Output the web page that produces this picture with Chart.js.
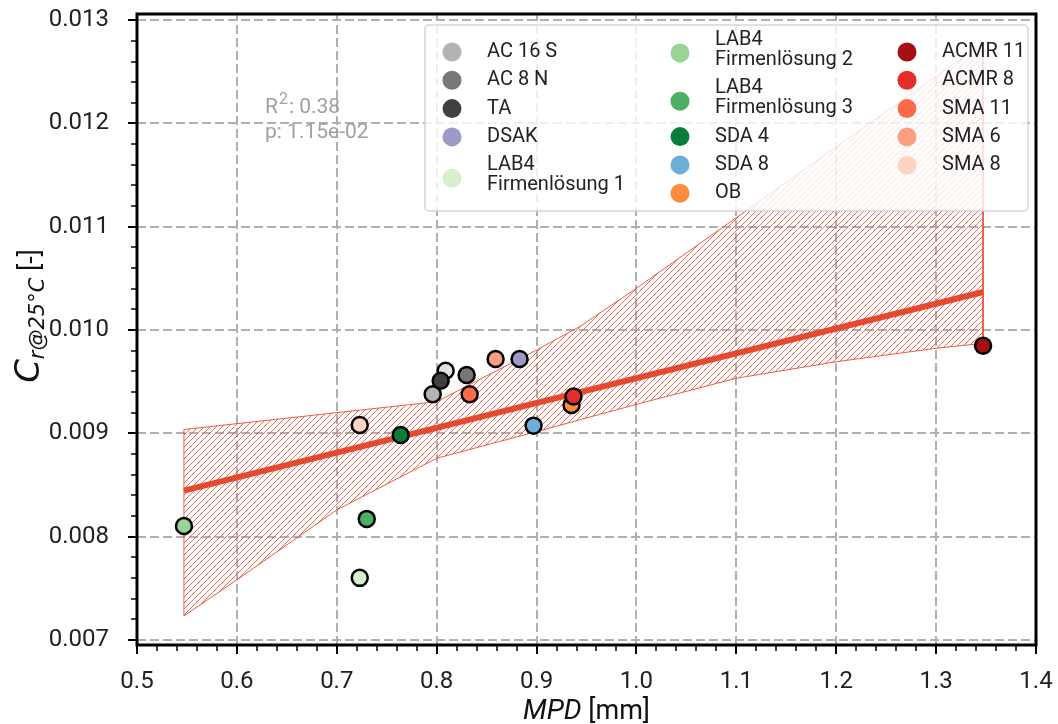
<!DOCTYPE html>
<html>
<head>
<meta charset="utf-8">
<script src="https://cdn.jsdelivr.net/npm/chart.js@4.4.0/dist/chart.umd.min.js"></script>
<style>
html, body { margin: 0; padding: 0; background: #fff; }
</style>
</head>
<body>
<canvas id="chart" width="1058" height="724"></canvas>
<script>
const names = ['AC 16 S', 'AC 8 N', 'TA', 'DSAK', 'LAB4\nFirmenlösung 1',
    'LAB4\nFirmenlösung 2', 'LAB4\nFirmenlösung 3', 'SDA 4', 'SDA 8', 'OB',
    'ACMR 11', 'ACMR 8', 'SMA 11', 'SMA 6', 'SMA 8']
const colors = ['#b3b3b3', '#777777', '#404040', '#9e9ac8', '#d5efcf',
    '#98d594', '#4bb062', '#0b7d3a', '#6baed6', '#fd8d3c',
    '#a50f15', '#e32f27', '#fb6a4a', '#fc9f81', '#fdd4c2']
const mpd = [0.796, 0.830, 0.804, 0.883, 0.723, 0.547, 0.730, 0.764, 0.897, 0.935, 1.347, 0.937, 0.833, 0.859, 0.723]
const cr = [0.009378, 0.009565, 0.009509, 0.009719, 0.00760, 0.008103, 0.008171, 0.008984, 0.009074, 0.009274, 0.009848, 0.009357, 0.009378, 0.009719, 0.009081]

// one point has no legend entry
const extraMpd = [0.809]
const extraCr = [0.009606]
const extraColor = '#e2e2e2'

// regression line and its confidence band
const fitX = [0.547, 1.347]
const fitY = [0.008445, 0.010368]
const bandX = [0.547, 0.6, 0.7, 0.8, 0.9, 0.943, 1.0, 1.1, 1.2, 1.3, 1.347]
const bandUpper = [0.009037, 0.009093, 0.009200, 0.009306, 0.009806, 0.010032, 0.010404, 0.011088, 0.011772, 0.012456, 0.012775]
const bandLower = [0.007232, 0.007581, 0.008258, 0.008758, 0.009016, 0.009130, 0.009280, 0.009533, 0.009693, 0.009823, 0.009871]

const xTicks = [0.5, 0.6, 0.7, 0.8, 0.9, 1.0, 1.1, 1.2, 1.3, 1.4]
const yTicks = [0.007, 0.008, 0.009, 0.010, 0.011, 0.012, 0.013]
const r2Text = '0.38'
const pText = '1.15e-02'

const lineRed = '#e64a2e'
const hatchRed = 'rgba(240,80,55,0.85)'
const font = 'Roboto'
const mathFont = '"DejaVu Sans"'

const datasets = []
datasets.push({
    data: bandX.map((x, i) => ({x: x, y: bandUpper[i]})),
    fill: false, borderWidth: 0, pointRadius: 0, order: 10
})
datasets.push({
    data: bandX.map((x, i) => ({x: x, y: bandLower[i]})),
    fill: false, borderWidth: 0, pointRadius: 0, order: 10
})
// outline of the band
let outline = bandX.map((x, i) => ({x: x, y: bandUpper[i]}))
outline = outline.concat(bandX.map((x, i) => ({x: x, y: bandLower[i]})).reverse())
outline.push({x: bandX[0], y: bandUpper[0]})
datasets.push({
    data: outline, fill: false, borderColor: 'rgba(235,75,50,0.9)', borderWidth: 1, pointRadius: 0, order: 9
})
datasets.push({
    data: fitX.map((x, i) => ({x: x, y: fitY[i]})),
    fill: false, borderColor: lineRed, borderWidth: 6, pointRadius: 0, borderCapStyle: 'butt', order: 5
})
datasets.push({
    data: extraMpd.map((x, i) => ({x: x, y: extraCr[i]})),
    showLine: false, pointRadius: 8, pointBackgroundColor: extraColor,
    pointBorderColor: '#000', pointBorderWidth: 2.5, order: 1
})
names.forEach((n, i) => {
    datasets.push({
        label: n,
        data: [{x: mpd[i], y: cr[i]}],
        showLine: false, pointRadius: 8, pointBackgroundColor: colors[i],
        pointBorderColor: '#000', pointBorderWidth: 2.5, order: -i
    })
})

const decor = {
    id: 'decor',
    beforeDatasetsDraw (chart) {
        const ctx = chart.ctx
        const a = chart.chartArea
        const x = chart.scales.x
        const y = chart.scales.y
        ctx.save()
        ctx.strokeStyle = '#b0b0b0'
        ctx.lineWidth = 2
        ctx.setLineDash([9, 4])
        xTicks.forEach((v) => {
            const px = Math.round(x.getPixelForValue(v))
            ctx.beginPath(); ctx.moveTo(px, a.bottom); ctx.lineTo(px, a.top); ctx.stroke()
        })
        yTicks.forEach((v) => {
            const py = Math.round(y.getPixelForValue(v))
            ctx.beginPath(); ctx.moveTo(a.left, py); ctx.lineTo(a.right, py); ctx.stroke()
        })
        ctx.restore()

        // hatched confidence band, clipped to the band polygon
        const up = chart.getDatasetMeta(0).data
        const lo = chart.getDatasetMeta(1).data
        ctx.save()
        ctx.beginPath()
        up.forEach((p, i) => { if (i) ctx.lineTo(p.x, p.y); else ctx.moveTo(p.x, p.y) })
        for (let i = lo.length - 1; i >= 0; i--) ctx.lineTo(lo[i].x, lo[i].y)
        ctx.closePath()
        ctx.clip()
        ctx.strokeStyle = hatchRed
        ctx.lineWidth = 1
        ctx.beginPath()
        for (let k = -a.height; k < a.width + a.height; k += 6) {
            ctx.moveTo(a.left + k, a.bottom)
            ctx.lineTo(a.left + k + a.height, a.top)
        }
        ctx.stroke()
        ctx.restore()
    },
    afterDraw (chart) {
        const ctx = chart.ctx
        const a = chart.chartArea
        const x = chart.scales.x
        const y = chart.scales.y
        ctx.save()

        // ticks
        ctx.strokeStyle = '#000'
        for (let k = 0; k <= 45; k++) {
            const v = 0.5 + k * 0.02
            const px = Math.round(x.getPixelForValue(v))
            const major = k % 5 == 0
            ctx.lineWidth = major ? 2 : 1.5
            ctx.beginPath(); ctx.moveTo(px, a.bottom); ctx.lineTo(px, a.bottom + (major ? 9 : 6)); ctx.stroke()
        }
        for (let k = 0; k <= 30; k++) {
            const v = 0.007 + k * 0.0002
            const py = Math.round(y.getPixelForValue(v))
            const major = k % 5 == 0
            ctx.lineWidth = major ? 2 : 1.5
            ctx.beginPath(); ctx.moveTo(a.left, py); ctx.lineTo(a.left - (major ? 9 : 6), py); ctx.stroke()
        }

        // frame
        ctx.lineWidth = 3
        ctx.strokeRect(a.left, a.top, a.width, a.height)

        // stats text
        ctx.fillStyle = '#a0a0a0'
        ctx.textBaseline = 'middle'
        ctx.font = '21px ' + font
        ctx.fillText('R', 265, 108)
        const rw = ctx.measureText('R').width
        ctx.font = '16px ' + font
        ctx.fillText('2', 265 + rw + 1, 100)
        const sw = ctx.measureText('2').width
        ctx.font = '21px ' + font
        ctx.fillText(': ' + r2Text, 265 + rw + sw + 2, 108)
        ctx.fillText('p: ' + pText, 265, 133)

        // legend box
        ctx.globalAlpha = 0.8
        ctx.fillStyle = '#fff'
        ctx.strokeStyle = '#cccccc'
        ctx.lineWidth = 1.5
        ctx.beginPath()
        ctx.roundRect(425, 25, 603, 186, 4)
        ctx.fill()
        ctx.stroke()
        ctx.globalAlpha = 1

        const colX = [452, 680, 907]
        const colY = [52, 40, 52]
        ctx.font = '20px ' + font
        ctx.textBaseline = 'middle'
        for (let c = 0; c < 3; c++) {
            let cy = colY[c]
            for (let r = 0; r < 5; r++) {
                const i = c * 5 + r
                const lines = names[i].split('\n')
                let my = cy
                if (lines.length > 1) my = cy + 13
                ctx.fillStyle = colors[i]
                ctx.beginPath()
                ctx.arc(colX[c], my, 9.5, 0, Math.PI * 2)
                ctx.fill()
                ctx.fillStyle = '#222'
                lines.forEach((t, j) => {
                    ctx.fillText(t, colX[c] + 35, cy + j * 20)
                })
                cy = cy + (lines.length - 1) * 20 + 28.3
            }
        }

        // axis titles
        ctx.fillStyle = '#111'
        ctx.textBaseline = 'alphabetic'
        ctx.font = 'italic 28px ' + font
        const w1 = ctx.measureText('MPD').width
        ctx.font = '27px ' + font
        const w2 = ctx.measureText(' [mm]').width
        const cx = (a.left + a.right) / 2
        const sx = cx - (w1 + w2) / 2
        ctx.font = 'italic 28px ' + font
        ctx.fillText('MPD', sx, 719)
        ctx.font = '27px ' + font
        ctx.fillText(' [mm]', sx + w1, 719)

        ctx.translate(39, 316)
        ctx.rotate(-Math.PI / 2)
        ctx.font = 'italic 34px ' + mathFont
        const c1 = ctx.measureText('C').width
        ctx.font = 'italic 21px ' + mathFont
        const c2 = ctx.measureText('r@25°C').width
        ctx.font = '27px ' + font
        const c3 = ctx.measureText(' [-]').width
        const tx = -(c1 + c2 + c3) / 2
        ctx.font = 'italic 34px ' + mathFont
        ctx.fillText('C', tx, 0)
        ctx.font = 'italic 21px ' + mathFont
        ctx.fillText('r@25°C', tx + c1, 5)
        ctx.font = '27px ' + font
        ctx.fillText(' [-]', tx + c1 + c2, 0)
        ctx.restore()
    }
}

function noPad (s) {
    s.paddingTop = 0
    s.paddingBottom = 0
    s.paddingLeft = 0
    s.paddingRight = 0
}

const chart = new Chart(document.getElementById('chart'), {
    type: 'line',
    data: {datasets: datasets},
    plugins: [decor],
    options: {
        responsive: false,
        animation: false,
        layout: {padding: {left: 0, top: 14, right: 22, bottom: 0}},
        plugins: {legend: {display: false}, tooltip: {enabled: false}},
        scales: {
            x: {
                type: 'linear', min: 0.5, max: 1.4,
                grid: {display: false}, border: {display: false},
                afterBuildTicks: (s) => { s.ticks = xTicks.map((v) => ({value: v})) },
                afterFit: (s) => { s.height = 79; noPad(s) },
                ticks: {font: {family: font, size: 24}, color: '#222', padding: 15, maxRotation: 0,
                    callback: (v) => v.toFixed(1)}
            },
            y: {
                type: 'linear', min: 0.00695, max: 0.01306,
                grid: {display: false}, border: {display: false},
                afterBuildTicks: (s) => { s.ticks = yTicks.map((v) => ({value: v})) },
                afterFit: (s) => { s.width = 137; noPad(s) },
                ticks: {font: {family: font, size: 24}, color: '#222', padding: 20,
                    callback: (v) => v.toFixed(3)}
            }
        }
    }
})
</script>
</body>
</html>
